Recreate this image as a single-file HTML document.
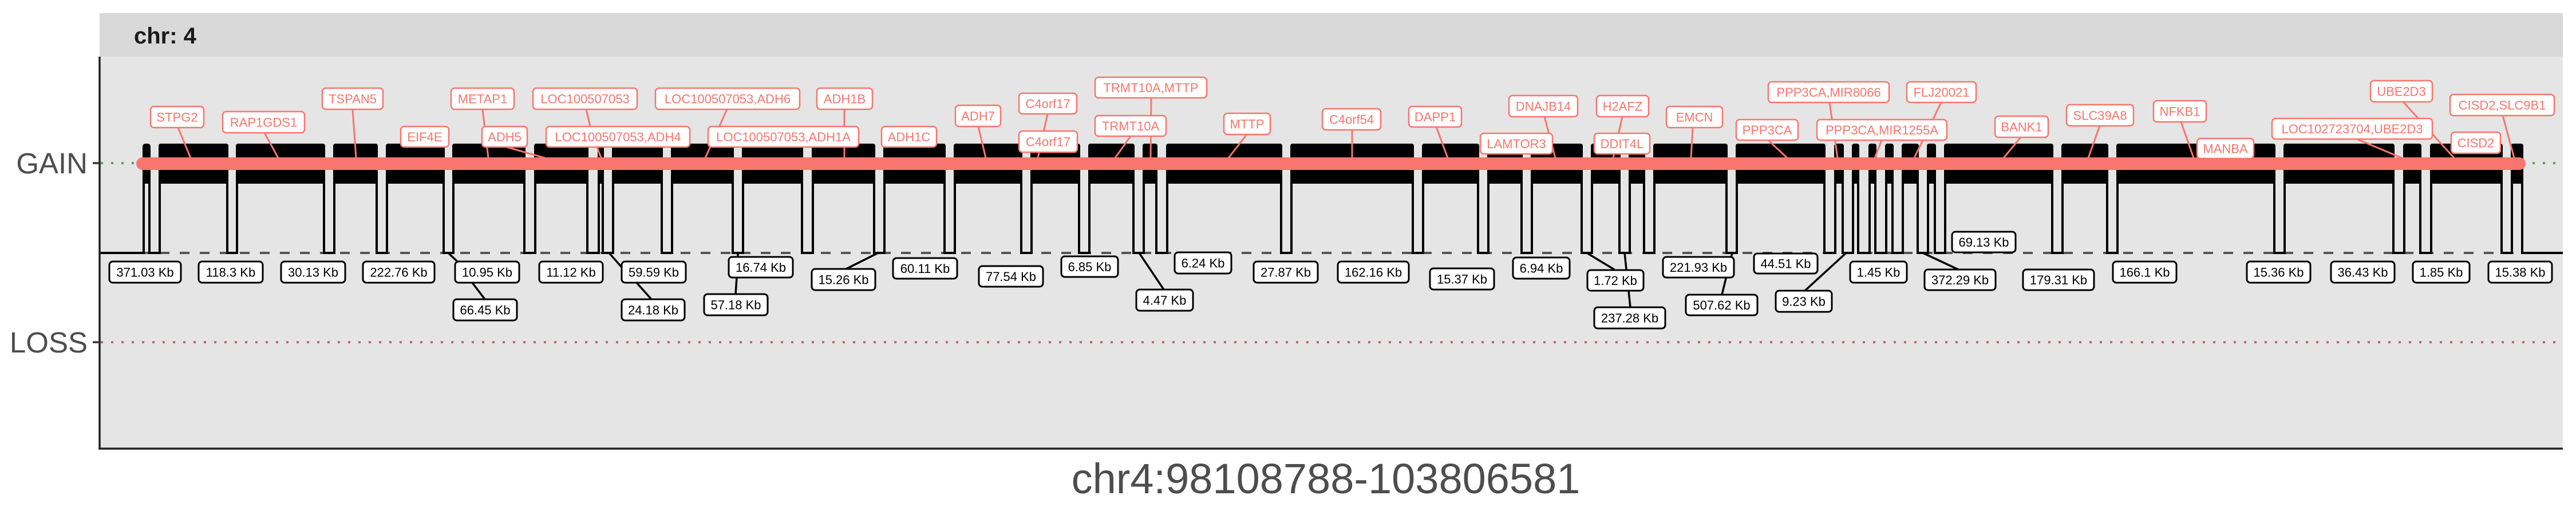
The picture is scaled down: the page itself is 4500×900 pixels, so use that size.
<!DOCTYPE html>
<html><head><meta charset="utf-8"><style>
html,body{margin:0;padding:0;background:#fff}
svg{display:block}
text{font-family:"Liberation Sans",Arial,sans-serif}
.g rect{fill:#fff;stroke:#F8766D;stroke-width:2.5}
.g text{fill:#F8766D;font-size:22px;text-anchor:middle}
.s rect{fill:#fff;stroke:#000;stroke-width:3}
.s text{fill:#000;font-size:22px;text-anchor:middle}
.rl line{stroke:#F8766D;stroke-width:3}
.bl line{stroke:#000;stroke-width:3.5}
</style></head><body>
<svg width="4500" height="900" viewBox="0 0 4500 900" xmlns="http://www.w3.org/2000/svg">
<rect x="174" y="23" width="4303" height="76" fill="#d9d9d9"/>
<text x="234" y="76" font-size="40" font-weight="bold" fill="#1a1a1a">chr: 4</text>
<rect x="174" y="99" width="4303" height="685" fill="#e5e5e5"/>
<!-- reference lines -->
<line x1="176" y1="285" x2="4477" y2="285" stroke="#5a9e5a" stroke-width="4" stroke-dasharray="4 14"/>
<line x1="176" y1="598" x2="4477" y2="598" stroke="#c0686b" stroke-width="4" stroke-dasharray="4 14"/>
<line x1="174" y1="442" x2="4477" y2="442" stroke="#555" stroke-width="4" stroke-dasharray="17 18"/>
<!-- noise blocks -->
<g fill="#000">
<rect x="249" y="251" width="14" height="70" rx="5"/>
<rect x="277" y="251" width="122" height="70" rx="4"/>
<rect x="412" y="251" width="156" height="70" rx="4"/>
<rect x="582" y="251" width="78" height="70" rx="4"/>
<rect x="674" y="251" width="103" height="70" rx="4"/>
<rect x="790" y="251" width="128" height="70" rx="4"/>
<rect x="933" y="251" width="95" height="70" rx="4"/>
<rect x="1044" y="251" width="11" height="70" rx="4"/>
<rect x="1069" y="251" width="89" height="70" rx="4"/>
<rect x="1172" y="251" width="110" height="70" rx="4"/>
<rect x="1296" y="251" width="107" height="70" rx="4"/>
<rect x="1418" y="251" width="111" height="70" rx="4"/>
<rect x="1543" y="251" width="109" height="70" rx="4"/>
<rect x="1666" y="251" width="120" height="70" rx="4"/>
<rect x="1800" y="251" width="87" height="70" rx="4"/>
<rect x="1901" y="251" width="81" height="70" rx="4"/>
<rect x="1996" y="251" width="26" height="70" rx="4"/>
<rect x="2037" y="251" width="203" height="70" rx="4"/>
<rect x="2254" y="251" width="216" height="70" rx="4"/>
<rect x="2484" y="251" width="100" height="70" rx="4"/>
<rect x="2598" y="251" width="62" height="70" rx="4"/>
<rect x="2674" y="251" width="91" height="70" rx="4"/>
<rect x="2779" y="251" width="52" height="70" rx="4"/>
<rect x="2845" y="251" width="29" height="70" rx="4"/>
<rect x="2888" y="251" width="130" height="70" rx="4"/>
<rect x="3032" y="251" width="157" height="70" rx="4"/>
<rect x="3204" y="251" width="17" height="70" rx="4"/>
<rect x="3235" y="251" width="13" height="70" rx="4"/>
<rect x="3264" y="251" width="14" height="70" rx="4"/>
<rect x="3293" y="251" width="15" height="70" rx="4"/>
<rect x="3322" y="251" width="30" height="70" rx="4"/>
<rect x="3366" y="251" width="16" height="70" rx="4"/>
<rect x="3396" y="251" width="191" height="70" rx="4"/>
<rect x="3601" y="251" width="82" height="70" rx="4"/>
<rect x="3697" y="251" width="278" height="70" rx="4"/>
<rect x="3989" y="251" width="194" height="70" rx="4"/>
<rect x="4198" y="251" width="32" height="70" rx="4"/>
<rect x="4245" y="251" width="127" height="70" rx="4"/>
<rect x="4386" y="251" width="22" height="70" rx="4"/>
</g>
<!-- step line -->
<path fill="none" stroke="#000" stroke-width="4" d="M174,442 H251 V300 H261 V442 H279 V300 H397 V442 H414 V300 H566 V442 H584 V300 H658 V442 H676 V300 H775 V442 H792 V300 H916 V442 H935 V300 H1026 V442 H1046 V300 H1053 V442 H1071 V300 H1156 V442 H1174 V300 H1280 V442 H1298 V300 H1401 V442 H1420 V300 H1527 V442 H1545 V300 H1650 V442 H1668 V300 H1784 V442 H1802 V300 H1885 V442 H1903 V300 H1980 V442 H1998 V300 H2020 V442 H2039 V300 H2238 V442 H2256 V300 H2468 V442 H2486 V300 H2582 V442 H2600 V300 H2658 V442 H2676 V300 H2763 V442 H2781 V300 H2829 V442 H2847 V300 H2872 V442 H2890 V300 H3016 V442 H3034 V300 H3187 V442 H3206 V300 H3219 V442 H3237 V300 H3246 V442 H3266 V300 H3276 V442 H3295 V300 H3306 V442 H3324 V300 H3350 V442 H3368 V300 H3380 V442 H3398 V300 H3585 V442 H3603 V300 H3681 V442 H3699 V300 H3973 V442 H3991 V300 H4181 V442 H4200 V300 H4228 V442 H4247 V300 H4370 V442 H4388 V300 H4406 V442 H4477"/>
<!-- red bar -->
<line x1="249" y1="286" x2="4401" y2="286" stroke="#F8766D" stroke-width="22" stroke-linecap="round"/>
<!-- axes -->
<line x1="174" y1="99" x2="174" y2="785" stroke="#222" stroke-width="3.5"/>
<line x1="172" y1="784" x2="4477" y2="784" stroke="#222" stroke-width="3.5"/>
<line x1="162" y1="285" x2="174" y2="285" stroke="#333" stroke-width="3.5"/>
<line x1="162" y1="598" x2="174" y2="598" stroke="#333" stroke-width="3.5"/>
<text x="153" y="303" font-size="51" fill="#4d4d4d" text-anchor="end">GAIN</text>
<text x="153" y="616" font-size="51" fill="#4d4d4d" text-anchor="end">LOSS</text>
<text x="2316" y="862" font-size="74" fill="#4d4d4d" text-anchor="middle">chr4:98108788-103806581</text>
<!-- red connectors -->
<g class="rl">
<line x1="311" y1="223" x2="333" y2="276"/><line x1="462" y1="232" x2="486" y2="276"/>
<line x1="616" y1="191" x2="622" y2="276"/><line x1="843" y1="191" x2="853" y2="276"/>
<line x1="885" y1="257" x2="952" y2="276"/><line x1="1024" y1="191" x2="1031" y2="221"/>
<line x1="1043" y1="257" x2="1050" y2="276"/><line x1="1270" y1="191" x2="1232" y2="276"/>
<line x1="1475" y1="191" x2="1475" y2="276"/><line x1="1709" y1="221" x2="1722" y2="276"/>
<line x1="1830" y1="199" x2="1813" y2="276"/><line x1="2011" y1="171" x2="2010" y2="276"/>
<line x1="1975" y1="238" x2="1948" y2="276"/><line x1="2178" y1="235" x2="2146" y2="276"/>
<line x1="2362" y1="227" x2="2362" y2="276"/><line x1="2509" y1="222" x2="2529" y2="276"/>
<line x1="2698" y1="204" x2="2717" y2="276"/><line x1="2834" y1="204" x2="2818" y2="276"/>
<line x1="2957" y1="223" x2="2954" y2="276"/><line x1="3089" y1="245" x2="3122" y2="276"/>
<line x1="3196" y1="179" x2="3210" y2="276"/><line x1="3287" y1="245" x2="3275" y2="276"/>
<line x1="3391" y1="179" x2="3344" y2="276"/><line x1="3530" y1="240" x2="3500" y2="276"/>
<line x1="3668" y1="220" x2="3648" y2="276"/><line x1="3810" y1="213" x2="3832" y2="276"/>
<line x1="4198" y1="178" x2="4287" y2="276"/><line x1="4117" y1="243" x2="4196" y2="276"/>
<line x1="4372" y1="202" x2="4392" y2="276"/>
</g>
<!-- gene labels -->
<g class="g">
<rect x="263" y="186" width="93" height="37" rx="6"/><text x="309.5" y="212.5">STPG2</text>
<rect x="389" y="195" width="143" height="37" rx="6"/><text x="460.5" y="221.5">RAP1GDS1</text>
<rect x="563" y="154" width="106" height="37" rx="6"/><text x="616" y="180.5">TSPAN5</text>
<rect x="700" y="221" width="84" height="36" rx="6"/><text x="742" y="247">EIF4E</text>
<rect x="788" y="154" width="110" height="37" rx="6"/><text x="843" y="180.5">METAP1</text>
<rect x="842" y="221" width="79" height="36" rx="6"/><text x="881.5" y="247">ADH5</text>
<rect x="931" y="154" width="182" height="37" rx="6"/><text x="1022" y="180.5">LOC100507053</text>
<rect x="954" y="221" width="251" height="36" rx="6"/><text x="1079.5" y="247">LOC100507053,ADH4</text>
<rect x="1145" y="154" width="252" height="37" rx="6"/><text x="1271" y="180.5">LOC100507053,ADH6</text>
<rect x="1237" y="221" width="263" height="36" rx="6"/><text x="1368.5" y="247">LOC100507053,ADH1A</text>
<rect x="1427" y="154" width="97" height="37" rx="6"/><text x="1475.5" y="180.5">ADH1B</text>
<rect x="1540" y="221" width="96" height="36" rx="6"/><text x="1588" y="247">ADH1C</text>
<rect x="1669" y="184" width="79" height="37" rx="6"/><text x="1708.5" y="210.5">ADH7</text>
<rect x="1780" y="163" width="101" height="36" rx="6"/><text x="1830.5" y="189">C4orf17</text>
<rect x="1780" y="229" width="102" height="37" rx="6"/><text x="1831" y="255.5">C4orf17</text>
<rect x="1913" y="135" width="195" height="36" rx="6"/><text x="2010.5" y="161">TRMT10A,MTTP</text>
<rect x="1913" y="202" width="124" height="36" rx="6"/><text x="1975" y="228">TRMT10A</text>
<rect x="2138" y="198" width="81" height="37" rx="6"/><text x="2178.5" y="224.5">MTTP</text>
<rect x="2310" y="190" width="102" height="37" rx="6"/><text x="2361" y="216.5">C4orf54</text>
<rect x="2461" y="186" width="92" height="36" rx="6"/><text x="2507" y="212">DAPP1</text>
<rect x="2636" y="167" width="120" height="37" rx="6"/><text x="2696" y="193.5">DNAJB14</text>
<rect x="2586" y="233" width="126" height="36" rx="6"/><text x="2649" y="259">LAMTOR3</text>
<rect x="2789" y="167" width="91" height="37" rx="6"/><text x="2834.5" y="193.5">H2AFZ</text>
<rect x="2785" y="233" width="97" height="36" rx="6"/><text x="2833.5" y="259">DDIT4L</text>
<rect x="2911" y="186" width="98" height="37" rx="6"/><text x="2960" y="212.5">EMCN</text>
<rect x="3033" y="209" width="108" height="36" rx="6"/><text x="3087" y="235">PPP3CA</text>
<rect x="3089" y="143" width="211" height="36" rx="6"/><text x="3194.5" y="169">PPP3CA,MIR8066</text>
<rect x="3174" y="209" width="227" height="36" rx="6"/><text x="3287.5" y="235">PPP3CA,MIR1255A</text>
<rect x="3331" y="143" width="121" height="36" rx="6"/><text x="3391.5" y="169">FLJ20021</text>
<rect x="3485" y="203" width="93" height="37" rx="6"/><text x="3531.5" y="229.5">BANK1</text>
<rect x="3610" y="183" width="117" height="37" rx="6"/><text x="3668.5" y="209.5">SLC39A8</text>
<rect x="3762" y="176" width="92" height="37" rx="6"/><text x="3808" y="202.5">NFKB1</text>
<rect x="3838" y="242" width="99" height="35" rx="6"/><text x="3887.5" y="267.5">MANBA</text>
<rect x="4141" y="141" width="108" height="37" rx="6"/><text x="4195" y="167.5">UBE2D3</text>
<rect x="3969" y="207" width="280" height="36" rx="6"/><text x="4109" y="233">LOC102723704,UBE2D3</text>
<rect x="4280" y="165" width="182" height="37" rx="6"/><text x="4371" y="191.5">CISD2,SLC9B1</text>
<rect x="4282" y="231" width="86" height="37" rx="6"/><text x="4325" y="257.5">CISD2</text>
</g>
<!-- black connectors -->
<g class="bl">
<line x1="783" y1="442" x2="799" y2="457"/><line x1="825" y1="494" x2="847" y2="523"/>
<line x1="1064" y1="442" x2="1086" y2="467"/><line x1="1112" y1="494" x2="1138" y2="523"/>
<line x1="1289" y1="442" x2="1289" y2="449"/><line x1="1287" y1="485" x2="1285" y2="514"/>
<line x1="1534" y1="442" x2="1478" y2="470"/><line x1="1990" y1="442" x2="2033" y2="506"/>
<line x1="2772" y1="442" x2="2820" y2="471"/><line x1="2838" y1="442" x2="2848" y2="537"/>
<line x1="3026" y1="442" x2="3008" y2="515"/><line x1="3225" y1="442" x2="3153" y2="508"/>
<line x1="3359" y1="442" x2="3421" y2="471"/>
</g>
<!-- size labels -->
<g class="s">
<rect x="191" y="457" width="125" height="37" rx="6"/><text x="253.5" y="483.5">371.03 Kb</text>
<rect x="347" y="457" width="112" height="37" rx="6"/><text x="403" y="483.5">118.3 Kb</text>
<rect x="491" y="457" width="112" height="37" rx="6"/><text x="547" y="483.5">30.13 Kb</text>
<rect x="634" y="457" width="125" height="37" rx="6"/><text x="696.5" y="483.5">222.76 Kb</text>
<rect x="795" y="457" width="112" height="37" rx="6"/><text x="851" y="483.5">10.95 Kb</text>
<rect x="792" y="523" width="111" height="37" rx="6"/><text x="847.5" y="549.5">66.45 Kb</text>
<rect x="942" y="457" width="111" height="37" rx="6"/><text x="997.5" y="483.5">11.12 Kb</text>
<rect x="1086" y="457" width="112" height="37" rx="6"/><text x="1142" y="483.5">59.59 Kb</text>
<rect x="1086" y="523" width="110" height="37" rx="6"/><text x="1141" y="549.5">24.18 Kb</text>
<rect x="1273" y="449" width="112" height="36" rx="6"/><text x="1329" y="475">16.74 Kb</text>
<rect x="1230" y="514" width="111" height="37" rx="6"/><text x="1285.5" y="540.5">57.18 Kb</text>
<rect x="1418" y="470" width="111" height="37" rx="6"/><text x="1473.5" y="496.5">15.26 Kb</text>
<rect x="1560" y="451" width="112" height="36" rx="6"/><text x="1616" y="477">60.11 Kb</text>
<rect x="1710" y="465" width="112" height="36" rx="6"/><text x="1766" y="491">77.54 Kb</text>
<rect x="1854" y="448" width="99" height="36" rx="6"/><text x="1903.5" y="474">6.85 Kb</text>
<rect x="1985" y="506" width="99" height="37" rx="6"/><text x="2034.5" y="532.5">4.47 Kb</text>
<rect x="2052" y="441" width="99" height="37" rx="6"/><text x="2101.5" y="467.5">6.24 Kb</text>
<rect x="2190" y="457" width="112" height="37" rx="6"/><text x="2246" y="483.5">27.87 Kb</text>
<rect x="2337" y="457" width="124" height="37" rx="6"/><text x="2399" y="483.5">162.16 Kb</text>
<rect x="2498" y="469" width="112" height="37" rx="6"/><text x="2554" y="495.5">15.37 Kb</text>
<rect x="2643" y="450" width="99" height="37" rx="6"/><text x="2692.5" y="476.5">6.94 Kb</text>
<rect x="2773" y="472" width="98" height="36" rx="6"/><text x="2822" y="498">1.72 Kb</text>
<rect x="2785" y="537" width="124" height="37" rx="6"/><text x="2847" y="563.5">237.28 Kb</text>
<rect x="2905" y="449" width="124" height="36" rx="6"/><text x="2967" y="475">221.93 Kb</text>
<rect x="2945" y="515" width="125" height="36" rx="6"/><text x="3007.5" y="541">507.62 Kb</text>
<rect x="3064" y="443" width="111" height="35" rx="6"/><text x="3119.5" y="468.5">44.51 Kb</text>
<rect x="3102" y="508" width="98" height="37" rx="6"/><text x="3151" y="534.5">9.23 Kb</text>
<rect x="3232" y="457" width="99" height="37" rx="6"/><text x="3281.5" y="483.5">1.45 Kb</text>
<rect x="3362" y="471" width="124" height="36" rx="6"/><text x="3424" y="497">372.29 Kb</text>
<rect x="3410" y="405" width="111" height="36" rx="6"/><text x="3465.5" y="431">69.13 Kb</text>
<rect x="3534" y="471" width="124" height="36" rx="6"/><text x="3596" y="497">179.31 Kb</text>
<rect x="3691" y="457" width="111" height="37" rx="6"/><text x="3746.5" y="483.5">166.1 Kb</text>
<rect x="3925" y="457" width="111" height="37" rx="6"/><text x="3980.5" y="483.5">15.36 Kb</text>
<rect x="4072" y="457" width="111" height="37" rx="6"/><text x="4127.5" y="483.5">36.43 Kb</text>
<rect x="4215" y="457" width="99" height="37" rx="6"/><text x="4264.5" y="483.5">1.85 Kb</text>
<rect x="4347" y="457" width="111" height="37" rx="6"/><text x="4402.5" y="483.5">15.38 Kb</text>
</g>
</svg>
</body></html>
